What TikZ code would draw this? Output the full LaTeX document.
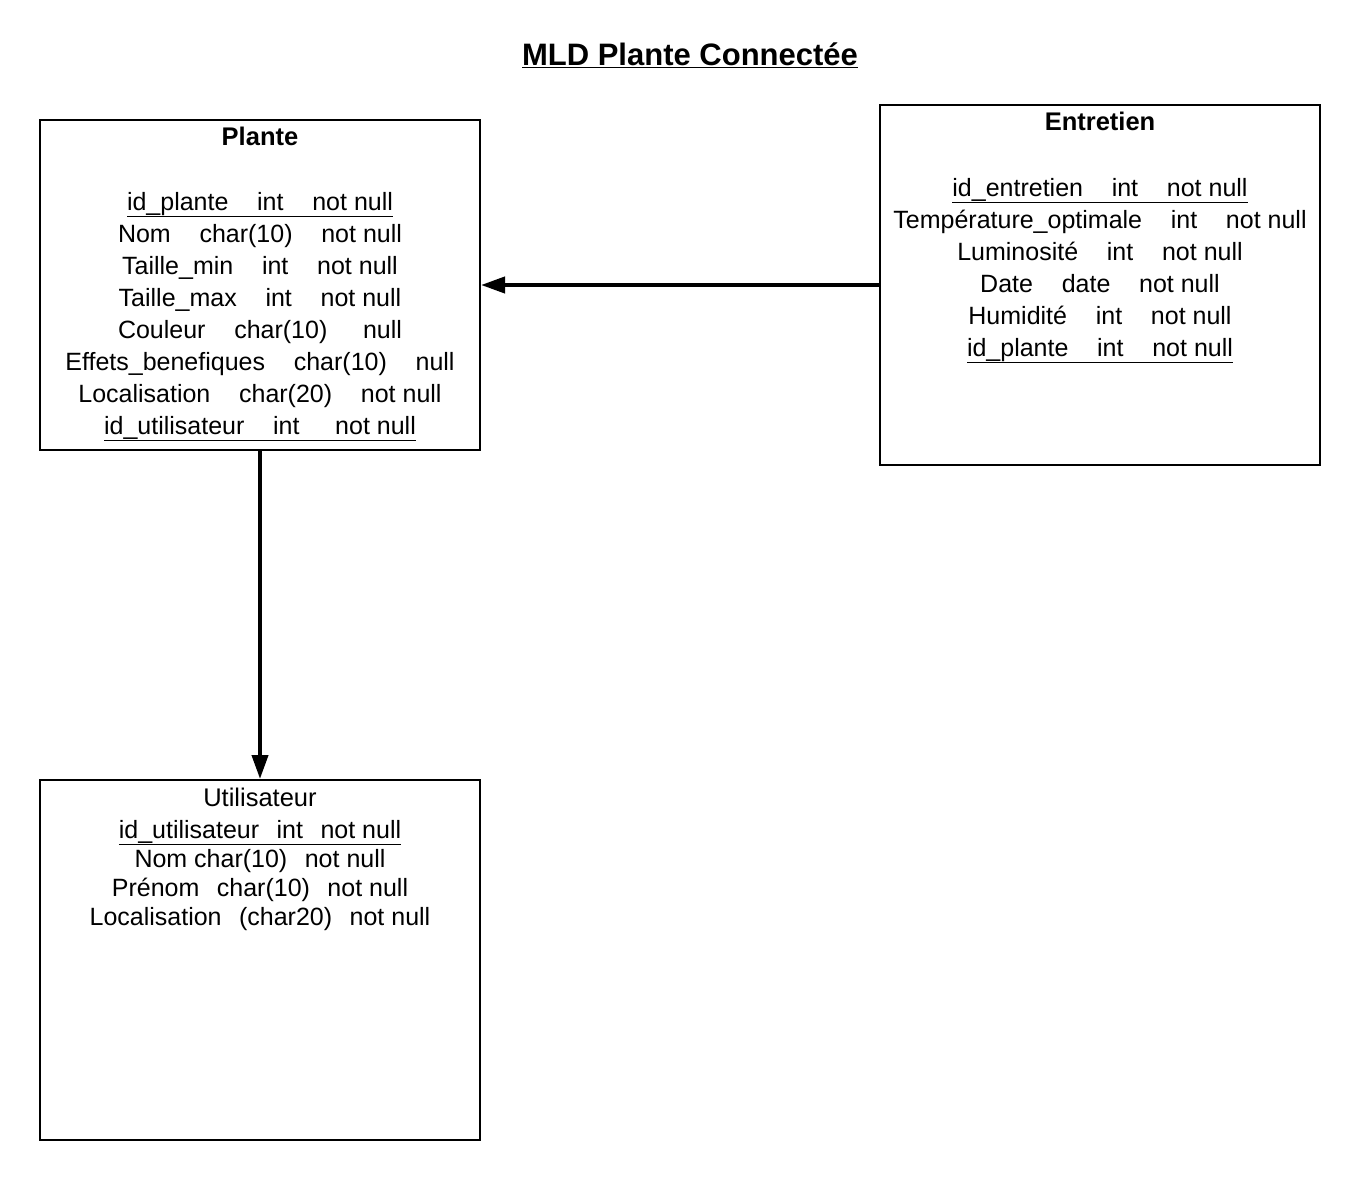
\documentclass[tikz,border=0pt]{standalone}
\usepackage{fontspec}
\setmainfont{Liberation Sans}
\usetikzlibrary{arrows.meta, positioning}
\tikzset{
    tablebox/.style={rectangle, draw, line width=2pt, minimum width=440pt, inner sep=0pt},
    tabletitle/.style={inner sep=0pt, anchor=base, font=\fontsize{25.5}{32}\selectfont},
    fields/.style={align=center, inner sep=0pt, anchor=base, font=\fontsize{25}{32}\selectfont},
    arrow/.style={-{Triangle[length=24pt,width=16pt]}, line width=4pt}
}
\newcommand\gp{\hspace{1.15em}}
\newcommand\gpu{\hspace{0.7em}}

\begin{document}
\begin{tikzpicture}[x=1pt, y=-1pt]
    \useasboundingbox (0,0) rectangle (1360,1180);
    \node (titre) at (690,55) {\fontsize{31}{36}\selectfont\bfseries\underline{MLD Plante Connectée}};

    \node (plante) [tablebox, minimum height=330pt] at (260,285) {};
    \node (entretien) [tablebox, minimum height=360pt] at (1100,285) {};
    \node (utilisateur) [tablebox, minimum height=360pt] at (260,960) {};

    % le point de base est la derniere ligne
    \node (plante-titre) [tabletitle] at (260,146) {\bfseries Plante};
    \node (plante-champs) [fields] at (260,434) {\underline{id\_plante\gp int\gp not null}\\
        Nom\gp char(10)\gp not null\\
        Taille\_min\gp int\gp not null\\
        Taille\_max\gp int\gp not null\\
        Couleur\gp char(10)\gp\ null\\
        Effets\_benefiques\gp char(10)\gp null\\
        Localisation\gp char(20)\gp not null\\
        \underline{id\_utilisateur\gp int\gp\ not null}};

    \node (entretien-titre) [tabletitle] at (1100,131) {\bfseries Entretien};
    \node (entretien-champs) [fields] at (1100,356) {\underline{id\_entretien\gp int\gp not null}\\
        Température\_optimale\gp int\gp not null\\
        Luminosité\gp int\gp not null\\
        Date\gp date\gp not null\\
        Humidité\gp int\gp not null\\
        \underline{id\_plante\gp int\gp not null}};

    \node (utilisateur-titre) [tabletitle] at (260,806) {Utilisateur};
    \node (utilisateur-champs) [fields, font=\fontsize{25}{29}\selectfont] at (260,925) {\underline{id\_utilisateur\gpu int\gpu not null}\\
        Nom char(10)\gpu not null\\
        Prénom\gpu char(10)\gpu not null\\
        Localisation\gpu (char20)\gpu not null};

    \draw[arrow] (entretien.west) -- (plante.east);
    \draw[arrow] (plante.south) -- (utilisateur.north);
\end{tikzpicture}
\end{document}
